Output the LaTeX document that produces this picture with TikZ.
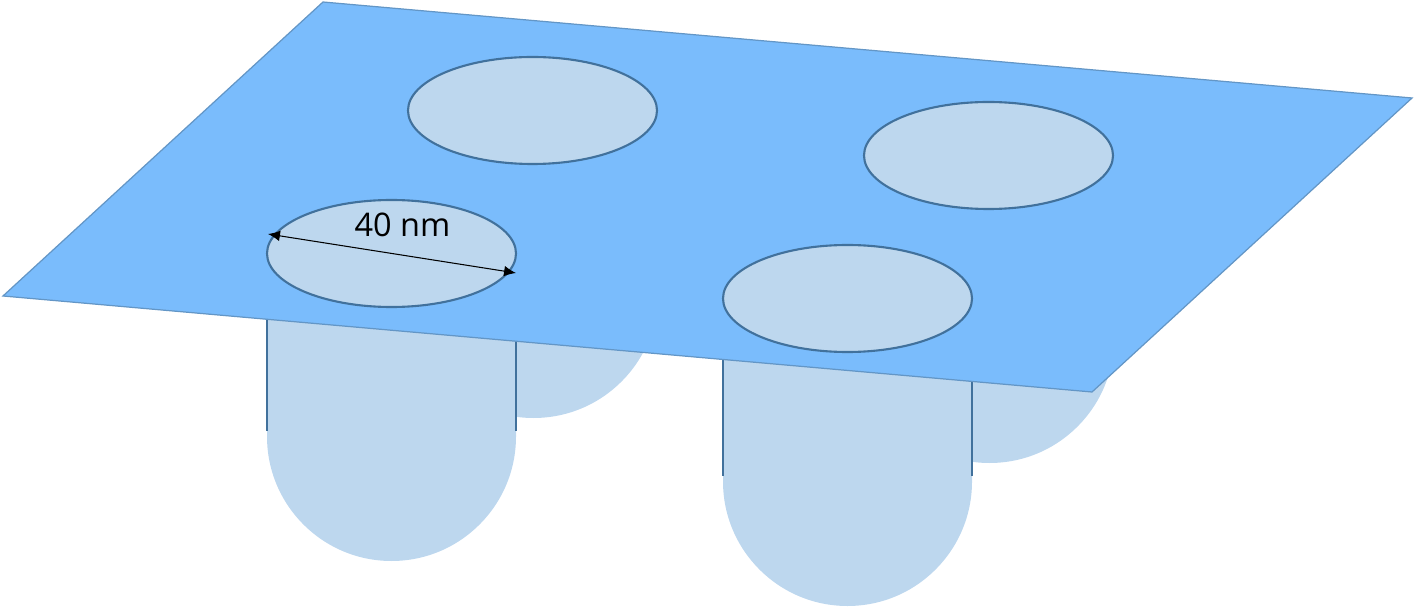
\documentclass[tikz,border=0pt]{standalone}
\usepackage{fontspec}
\usepackage{xcolor}
\usetikzlibrary{arrows.meta}
\setmainfont{Open Sans}
\definecolor{sheetblue}{HTML}{7ABCFC}
\definecolor{holeblue}{HTML}{BDD7EE}
\definecolor{rimblue}{HTML}{41719C}
\definecolor{edgeblue}{HTML}{6396C6}
\begin{document}
\begin{tikzpicture}[x=0.02cm,y=-0.02cm]
        \useasboundingbox (0,0) rectangle (1415,607);

        % corners of the sheet
        \coordinate (P1) at (323,2);
        \coordinate (P2) at (1412,98);
        \coordinate (P3) at (1092,392);
        \coordinate (P4) at (3,296);

        % ends of the size arrow
        \coordinate (D1) at (268,234);
        \coordinate (D2) at (516,273);

        % back pores
        \fill[holeblue] (409,293.5) -- (658,293.5) arc
            [
            start angle=0,
            end angle=180,
            x radius=124.5,
            y radius =124.5
            ] -- cycle;
        \fill[holeblue] (865,338.5) -- (1114,338.5) arc
            [
            start angle=0,
            end angle=180,
            x radius=124.5,
            y radius =124.5
            ] -- cycle;

        % front pores
        \fill[holeblue] (267,310) -- (516,310) -- (516,436.5) arc
            [
            start angle=0,
            end angle=180,
            x radius=124.5,
            y radius =124.5
            ] -- cycle;
        \fill[holeblue] (723,350) -- (972,350) -- (972,481.5) arc
            [
            start angle=0,
            end angle=180,
            x radius=124.5,
            y radius =124.5
            ] -- cycle;
        \draw[rimblue,line width=1.1pt] (267,310)--(267,431);
        \draw[rimblue,line width=1.1pt] (516,330)--(516,431);
        \draw[rimblue,line width=1.1pt] (723,350)--(723,476);
        \draw[rimblue,line width=1.1pt] (972,370)--(972,476);

        % sheet
        \draw[edgeblue,fill=sheetblue,line width=0.7pt] (P1)--(P2)--(P3)--(P4)--cycle;

        % openings
        \draw[rimblue,fill=holeblue,line width=1.2pt] (532.5,110.5) ellipse [x radius=124.5,y radius=53.5];
        \draw[rimblue,fill=holeblue,line width=1.2pt] (988.5,155.5) ellipse [x radius=124.5,y radius=53.5];
        \draw[rimblue,fill=holeblue,line width=1.2pt] (391.5,253.5) ellipse [x radius=124.5,y radius=53.5];
        \draw[rimblue,fill=holeblue,line width=1.2pt] (847.5,298.5) ellipse [x radius=124.5,y radius=53.5];

        \draw[{Latex[length=6.8pt,width=6pt]}-{Latex[length=6.8pt,width=6pt]},black,line width=0.6pt] (D1)--(D2);
        \node[text=black,inner sep=0pt,font=\fontsize{18.5}{22}\selectfont] (L1) at (402.5,225) {40 nm};
    \end{tikzpicture}
\end{document}
